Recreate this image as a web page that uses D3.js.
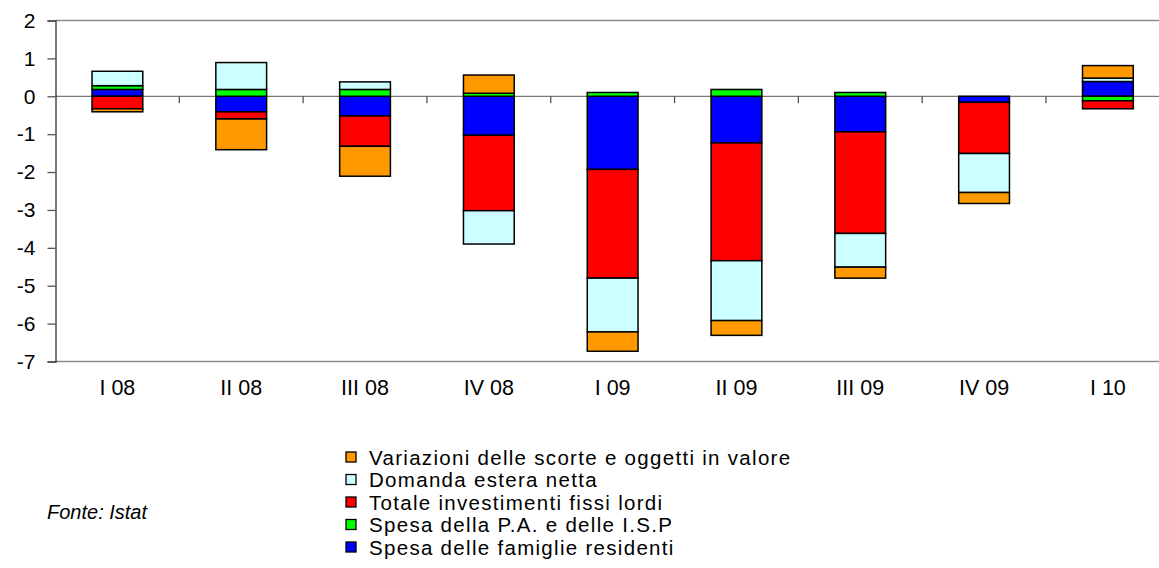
<!DOCTYPE html>
<html>
<head>
<meta charset="utf-8">
<script src="https://cdnjs.cloudflare.com/ajax/libs/d3/7.8.5/d3.min.js"></script>
<style>
  body { margin: 0; background: #fff; }
  svg { display: block; font-family: "Liberation Sans", Arial, sans-serif; }
</style>
</head>
<body>
<div id="content"></div>
<script>
// trimestri
var quarters = ["I 08", "II 08", "III 08", "IV 08", "I 09", "II 09", "III 09", "IV 09", "I 10"];

// contributi alla crescita del PIL, punti percentuali
var famiglie     = [0.18, -0.41, -0.52, -1.03, -1.93, -1.23, -0.94, -0.16, 0.39];
var pa           = [0.10, 0.18, 0.18, 0.08, 0.10, 0.18, 0.10, 0.00, -0.12];
var investimenti = [-0.33, -0.19, -0.80, -1.99, -2.87, -3.11, -2.68, -1.35, -0.21];
var estera       = [0.38, 0.71, 0.20, -0.88, -1.42, -1.58, -0.89, -1.03, 0.09];
var scorte       = [-0.08, -0.81, -0.79, 0.48, -0.51, -0.39, -0.29, -0.29, 0.33];

var yTicks = [2, 1, 0, -1, -2, -3, -4, -5, -6, -7];

var series = [
  {key: "famiglie", label: "Spesa delle famiglie residenti", color: "#0000ff", values: famiglie},
  {key: "pa", label: "Spesa della P.A. e delle I.S.P", color: "#00ff00", values: pa},
  {key: "investimenti", label: "Totale investimenti fissi lordi", color: "#ff0000", values: investimenti},
  {key: "estera", label: "Domanda estera netta", color: "#ccffff", values: estera},
  {key: "scorte", label: "Variazioni delle scorte e oggetti in valore", color: "#ff9900", values: scorte}
];

var width = 1159, height = 568;
var margin = {left: 55.5, right: 1169.8, top: 20.5, bottom: 361.5};

var svg = d3.select("#content").append("svg")
  .attr("width", width)
  .attr("height", height);

var x = d3.scaleBand().domain(quarters).range([margin.left, margin.right]).padding(0);
var y = d3.scaleLinear().domain([-7, 2]).range([margin.bottom, margin.top]);

// tabella per lo stack
var table = quarters.map(function(q, i) {
  var row = {q: q};
  series.forEach(function(s) { row[s.key] = s.values[i]; });
  return row;
});

var stack = d3.stack()
  .keys(series.map(function(s) { return s.key; }))
  .order(d3.stackOrderNone)
  .offset(d3.stackOffsetDiverging);
var layers = stack(table);

// cornice: linee superiore e inferiore grigie
svg.append("line")
  .attr("x1", margin.left).attr("x2", width).attr("y1", y(2)).attr("y2", y(2))
  .attr("stroke", "#8c8c8c").attr("stroke-width", 1.3);
svg.append("line")
  .attr("x1", margin.left).attr("x2", width).attr("y1", y(-7)).attr("y2", y(-7))
  .attr("stroke", "#8c8c8c").attr("stroke-width", 1.3);

// linea dello zero con tacche fra le categorie
svg.append("line")
  .attr("x1", margin.left).attr("x2", width).attr("y1", y(0)).attr("y2", y(0))
  .attr("stroke", "#7a7a7a").attr("stroke-width", 1.3);
svg.selectAll(".ztick")
  .data(quarters.slice(1))
  .enter().append("line")
  .attr("class", "ztick")
  .attr("x1", function(d) { return x(d); })
  .attr("x2", function(d) { return x(d); })
  .attr("y1", y(0)).attr("y2", y(0) + 7)
  .attr("stroke", "#555").attr("stroke-width", 1.3);

// barre
var bw = x.bandwidth() * 0.41;
svg.selectAll(".layer")
  .data(layers)
  .enter().append("g")
  .attr("class", "layer")
  .attr("fill", function(d, i) { return series[i].color; })
  .selectAll("rect")
  .data(function(d) { return d; })
  .enter().append("rect")
  .attr("x", function(d) { return x(d.data.q) + (x.bandwidth() - bw) / 2; })
  .attr("width", bw)
  .attr("y", function(d) { return y(Math.max(d[0], d[1])); })
  .attr("height", function(d) { return Math.abs(y(d[0]) - y(d[1])); })
  .attr("stroke", "#000")
  .attr("stroke-width", 1.5);

// asse verticale
var yAxis = svg.append("g")
  .attr("transform", "translate(" + margin.left + ",0)")
  .call(d3.axisLeft(y).tickValues(yTicks).tickSize(8).tickPadding(12).tickFormat(d3.format("d")));
yAxis.select(".domain").attr("stroke", "#333").attr("stroke-width", 1.3);
yAxis.selectAll(".tick line").attr("stroke", "#555").attr("stroke-width", 1.3);
yAxis.selectAll("text").attr("font-size", 21).attr("fill", "#000")
  .attr("font-family", "Liberation Sans, Arial, sans-serif")
  .text(function(d) { return d < 0 ? "-" + Math.abs(d) : d; });

// etichette delle categorie
svg.selectAll(".xlabel")
  .data(quarters)
  .enter().append("text")
  .attr("class", "xlabel")
  .attr("x", function(d) { return x(d) + x.bandwidth() / 2; })
  .attr("y", 395)
  .attr("text-anchor", "middle")
  .attr("font-size", 21.5)
  .text(function(d) { return d; });

// legenda
var legendRows = series.slice().reverse();
var legend = svg.selectAll(".legend")
  .data(legendRows)
  .enter().append("g")
  .attr("class", "legend")
  .attr("transform", function(d, i) { return "translate(346," + (457 + i * 22.5) + ")"; });
legend.append("rect")
  .attr("x", 0).attr("y", -5).attr("width", 10).attr("height", 10)
  .attr("fill", function(d) { return d.color; })
  .attr("stroke", "#000").attr("stroke-width", 1.3);
legend.append("text")
  .attr("x", 23).attr("y", 7.5)
  .attr("font-size", 20.5)
  .attr("letter-spacing", 1.3)
  .text(function(d) { return d.label; });

svg.append("text")
  .attr("x", 47).attr("y", 519)
  .attr("font-size", 20)
  .attr("font-style", "italic")
  .text("Fonte: Istat");
</script>
</body>
</html>
